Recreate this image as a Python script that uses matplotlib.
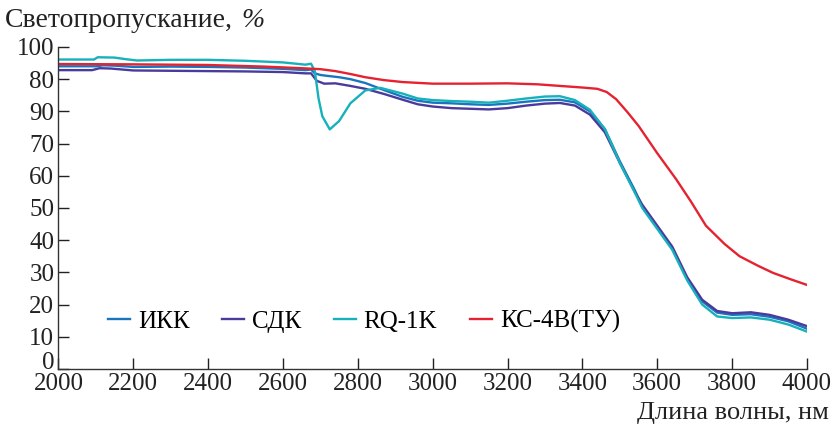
import matplotlib
matplotlib.use("Agg")
import matplotlib.pyplot as plt
from matplotlib.transforms import ScaledTranslation

plt.rcParams['font.family'] = ['Liberation Serif', 'DejaVu Serif']

# ИКК
ikk_x = [2000, 2100, 2120, 2150, 2200, 2300, 2400, 2500, 2600, 2660, 2675, 2685, 2700, 2720,
         2750, 2780, 2820, 2870, 2920, 2960, 3000, 3050, 3100, 3150, 3200, 3250, 3300, 3340,
         3380, 3420, 3460, 3500, 3540, 3560, 3600, 3640, 3680, 3720, 3760, 3800, 3850, 3900,
         3950, 4000]
ikk_y = [94.0, 94.0, 94.3, 94.2, 93.8, 93.9, 93.8, 93.6, 93.2, 92.8, 93.0, 91.8, 91.3, 91.0,
         90.6, 90.0, 88.8, 86.6, 84.5, 83.3, 82.7, 82.5, 82.2, 82.0, 82.4, 83.0, 83.5, 83.6,
         82.8, 80.0, 74.5, 64.5, 55.5, 50.5, 44.0, 37.5, 28.0, 21.0, 17.5, 16.8, 17.0, 16.2,
         14.8, 12.5]

# СДК
sdk_x = [2000, 2090, 2110, 2140, 2200, 2300, 2400, 2500, 2600, 2660, 2675, 2690, 2710, 2740,
         2780, 2820, 2870, 2920, 2960, 3000, 3050, 3100, 3150, 3200, 3250, 3300, 3340, 3380,
         3420, 3460, 3500, 3540, 3560, 3600, 3640, 3680, 3720, 3760, 3800, 3850, 3900, 3950,
         4000]
sdk_y = [92.8, 92.8, 93.4, 93.3, 92.7, 92.6, 92.5, 92.4, 92.2, 91.8, 91.8, 89.5, 88.6, 88.7,
         87.9, 87.0, 85.4, 83.6, 82.2, 81.5, 81.0, 80.8, 80.6, 81.0, 81.8, 82.4, 82.6, 81.8,
         79.0, 73.5, 64.0, 55.0, 51.0, 44.5, 38.0, 28.5, 21.5, 18.0, 17.3, 17.6, 16.8, 15.3,
         13.3]

# RQ-1K
rq_x = [2000, 2095, 2105, 2150, 2180, 2210, 2300, 2400, 2500, 2600, 2660, 2675, 2685, 2695,
        2705, 2725, 2750, 2780, 2820, 2860, 2920, 2960, 3000, 3050, 3100, 3150, 3200, 3250,
        3300, 3340, 3380, 3420, 3460, 3500, 3540, 3560, 3600, 3640, 3680, 3720, 3760, 3800,
        3850, 3900, 3950, 4000]
rq_y = [96.1, 96.1, 96.8, 96.7, 96.2, 95.8, 96.0, 96.0, 95.7, 95.2, 94.5, 94.8, 92.5, 84.0,
        78.5, 74.4, 77.0, 82.5, 86.5, 87.3, 85.5, 84.0, 83.5, 83.2, 83.0, 82.7, 83.3, 84.0,
        84.6, 84.7, 83.5, 80.5, 74.5, 64.0, 54.8, 50.0, 43.5, 37.0, 27.5, 20.0, 16.3, 15.8,
        16.0, 15.3, 13.8, 11.6]

# КС-4В(ТУ)
ks_x = [2000, 2200, 2400, 2550, 2650, 2700, 2740, 2780, 2820, 2870, 2920, 3000, 3100, 3200,
        3280, 3340, 3400, 3440, 3465, 3490, 3520, 3550, 3600, 3650, 3690, 3730, 3780, 3820,
        3870, 3910, 3960, 4000]
ks_y = [94.7, 94.6, 94.4, 93.9, 93.4, 93.1, 92.5, 91.6, 90.6, 89.7, 89.1, 88.6, 88.6, 88.7,
        88.4, 87.9, 87.4, 87.0, 86.0, 83.8, 79.8, 75.5, 67.0, 59.0, 52.0, 44.5, 38.8, 35.0,
        32.0, 29.8, 27.7, 26.1]

x_ticks = list(range(2000, 4001, 200))
y_ticks = [0, 10, 20, 30, 40, 50, 60, 70, 80, 90, 100]
y_tick_labels = ["0", "10", "20", "30", "40", "50", "60", "70", "90", "80", "100"]

fig = plt.figure(figsize=(8.35, 4.30), dpi=100)
ax = fig.add_axes([0.070, 0.142, 0.8964, 0.7488])

lw = 1.7
ax.plot(ikk_x, ikk_y, color="#1a75bf", lw=lw, label="ИКК")
ax.plot(sdk_x, sdk_y, color="#4a3a9c", lw=lw, label="СДК")
ax.plot(rq_x, rq_y, color="#17b1bb", lw=lw, label="RQ-1K")
ax.plot(ks_x, ks_y, color="#e52330", lw=lw, label="КС-4В(ТУ)")

ax.set_xlim(2000, 4000)
ax.set_ylim(0, 100)
ax.set_xticks(x_ticks)
ax.set_yticks(y_ticks)
ax.set_yticklabels(y_tick_labels)
ax.tick_params(direction="in", length=8, width=1, labelsize=18, colors="#222222")
ax.tick_params(axis="y", pad=3)
ax.tick_params(axis="x", pad=3)
for s in ["top", "right"]:
    ax.spines[s].set_visible(False)
for s in ["left", "bottom"]:
    ax.spines[s].set_color("#333333")
    ax.spines[s].set_linewidth(1)

# "0" sits a bit higher so it doesn't run into "2000"
lbl0 = ax.get_yticklabels()[0]
lbl0.set_transform(lbl0.get_transform() + ScaledTranslation(0, 6 / 72, fig.dpi_scale_trans))

leg = ax.legend(loc="center", bbox_to_anchor=(0.408, 0.146), ncol=4, frameon=False,
                fontsize=18, handlelength=0.9, handletextpad=0.3, columnspacing=1.3)

t = fig.text(0.006, 0.953, "Светопропускание,", fontsize=20, ha="left", va="center", color="#222222")
ax.annotate("%", xy=(1, 0.5), xycoords=t, xytext=(6, 0), textcoords="offset points",
            fontsize=20, style="italic", ha="left", va="center", color="#222222",
            annotation_clip=False)
fig.text(0.993, 0.04, "Длина волны, нм", fontsize=19, ha="right", va="center", color="#222222")

fig.savefig("out.png", dpi=100)
